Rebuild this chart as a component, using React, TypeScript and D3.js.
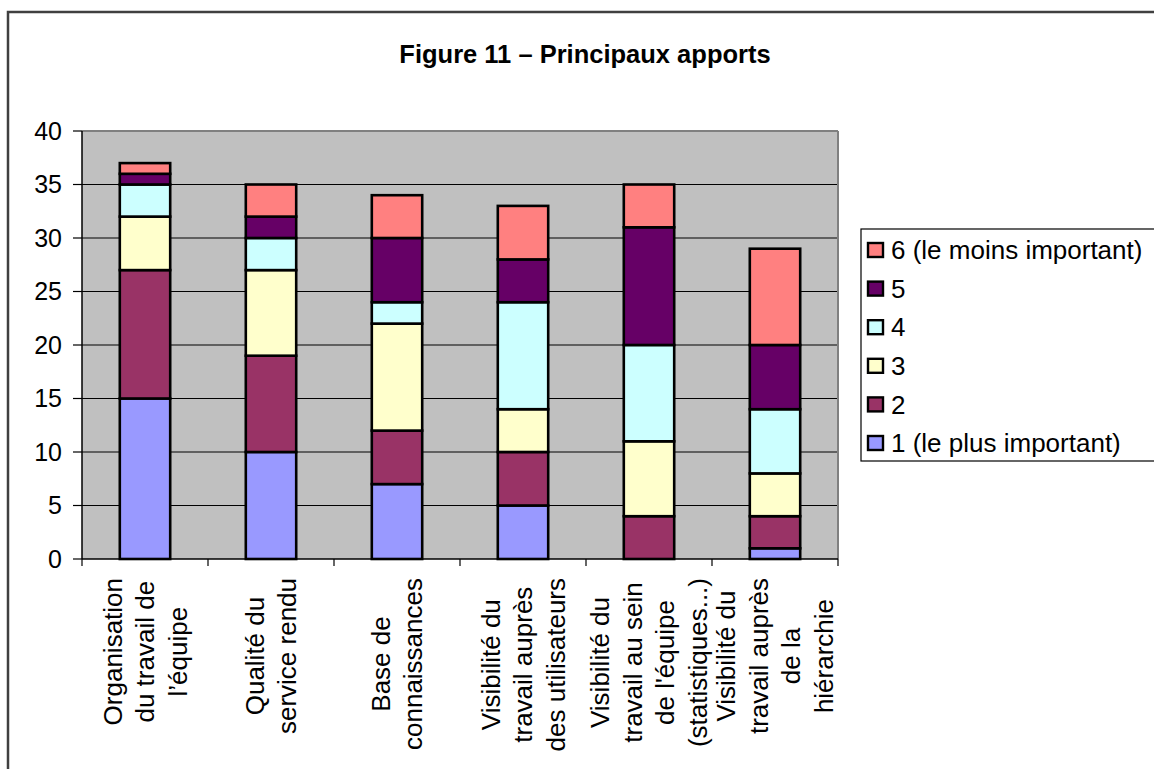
import React, { useMemo } from "react";
import * as d3 from "d3";

// Categories (line breaks mark the wrapped axis label lines)
const categories = [
  "Organisation\ndu travail de\nl’équipe",
  "Qualité du\nservice rendu",
  "Base de\nconnaissances",
  "Visibilité du\ntravail auprès\ndes utilisateurs",
  "Visibilité du\ntravail au sein\nde l'équipe\n(statistiques...)",
  "Visibilité du\ntravail auprès\nde la\nhiérarchie",
];

const seriesNames = ["1 (le plus important)", "2", "3", "4", "5", "6 (le moins important)"];

// Number of answers per rank, one value per category
const rank1 = [15, 10, 7, 5, 0, 1];
const rank2 = [12, 9, 5, 5, 4, 3];
const rank3 = [5, 8, 10, 4, 7, 4];
const rank4 = [3, 3, 2, 10, 9, 6];
const rank5 = [1, 2, 6, 4, 11, 6];
const rank6 = [1, 3, 4, 5, 4, 9];

const seriesColors = ["#9999FF", "#993366", "#FFFFCC", "#CCFFFF", "#660066", "#FF8080"];

const yTicks = [0, 5, 10, 15, 20, 25, 30, 35, 40];

const title = "Figure 11 – Principaux apports";

const FONT = "Arial, 'Liberation Sans', sans-serif";
const W = 1154;
const H = 769;
const plot = { left: 82, right: 838, top: 131, bottom: 559 };

export default function App() {
  const allSeries = [rank1, rank2, rank3, rank4, rank5, rank6];
  const rows = categories.map((c, i) => {
    const r: Record<string, any> = { category: c };
    seriesNames.forEach((s, k) => (r[s] = allSeries[k][i]));
    return r;
  });
  const stacked = d3.stack<any>().keys(seriesNames)(rows);

  const x = d3
    .scaleBand<string>()
    .domain(categories)
    .range([plot.left, plot.right])
    .paddingInner(0.6)
    .paddingOuter(0.3);
  const step = x.step();
  const y = d3.scaleLinear().domain([0, 40]).range([plot.bottom, plot.top]);

  const labelFontSize = 26;
  const lineGap = 32.6;

  const measure = useMemo(() => {
    const canvas = document.createElement("canvas");
    const ctx = canvas.getContext("2d")!;
    ctx.font = `${labelFontSize}px Arial, 'Liberation Sans', sans-serif`;
    return (s: string) => ctx.measureText(s).width;
  }, []);

  const legendTop = 229;
  const legendRow0 = 250;
  const legendStep = 38.6;

  return (
    <svg
      width={W}
      height={H}
      style={{ position: "absolute", left: 0, top: 0, background: "#fff" }}
      fontFamily={FONT}
    >
      {/* outer chart frame */}
      <rect x={8} y={12} width={W + 20} height={H + 20} fill="#fff" stroke="#404040" strokeWidth={2.5} />

      <text x={585} y={63} textAnchor="middle" fontSize={25.5} fontWeight="bold" fill="#000">
        {title}
      </text>

      {/* plot area */}
      <rect
        x={plot.left}
        y={plot.top}
        width={plot.right - plot.left}
        height={plot.bottom - plot.top}
        fill="#C0C0C0"
      />
      {yTicks
        .filter((t) => t > 0 && t < 40)
        .map((t) => (
          <line key={t} x1={plot.left} x2={plot.right} y1={y(t)} y2={y(t)} stroke="#000" strokeWidth={1.2} />
        ))}
      <line x1={plot.left} x2={plot.right} y1={plot.top} y2={plot.top} stroke="#808080" strokeWidth={2} />
      <line x1={plot.right} x2={plot.right} y1={plot.top} y2={plot.bottom} stroke="#808080" strokeWidth={2} />

      {/* stacked bars */}
      {stacked.map((layer, k) => (
        <g key={layer.key} fill={seriesColors[k]} stroke="#000" strokeWidth={2.6}>
          {layer.map((d, i) =>
            d[1] - d[0] > 0 ? (
              <rect
                key={i}
                x={x(categories[i])!}
                y={y(d[1])}
                width={x.bandwidth()}
                height={y(d[0]) - y(d[1])}
              />
            ) : null
          )}
        </g>
      ))}

      {/* y axis */}
      <line x1={plot.left} x2={plot.left} y1={plot.top} y2={plot.bottom} stroke="#000" strokeWidth={1.5} />
      {yTicks.map((t) => (
        <g key={t}>
          <line x1={plot.left - 9} x2={plot.left} y1={y(t)} y2={y(t)} stroke="#000" strokeWidth={1.2} />
          <text x={62} y={y(t)} dy="0.35em" textAnchor="end" fontSize={25} fill="#000">
            {t}
          </text>
        </g>
      ))}

      {/* x axis */}
      <line x1={plot.left} x2={plot.right} y1={plot.bottom} y2={plot.bottom} stroke="#000" strokeWidth={1.5} />
      {d3.range(categories.length + 1).map((i) => (
        <line
          key={i}
          x1={plot.left + i * step}
          x2={plot.left + i * step}
          y1={plot.bottom}
          y2={plot.bottom + 7}
          stroke="#000"
          strokeWidth={1.2}
        />
      ))}
      {categories.map((c) => {
        const lines = c.split("\n");
        const cx = x(c)! + x.bandwidth() / 2;
        const maxW = Math.max(...lines.map(measure));
        const cy = 578 + maxW / 2;
        return (
          <g key={c}>
            {lines.map((ln, j) => {
              const lx = cx + (j - (lines.length - 1) / 2) * lineGap;
              return (
                <text
                  key={j}
                  transform={`translate(${lx},${cy}) rotate(-90)`}
                  textAnchor="middle"
                  dy="0.35em"
                  fontSize={labelFontSize}
                  fill="#000"
                >
                  {ln}
                </text>
              );
            })}
          </g>
        );
      })}

      {/* legend */}
      <rect x={861} y={legendTop} width={320} height={461 - legendTop} fill="#fff" stroke="#000" strokeWidth={1.2} />
      {seriesNames
        .map((s, k) => ({ s, k }))
        .reverse()
        .map(({ s, k }, row) => {
          const cy = legendRow0 + row * legendStep;
          return (
            <g key={s}>
              <rect x={868} y={cy - 7} width={15} height={14} fill={seriesColors[k]} stroke="#000" strokeWidth={2.4} />
              <text x={891} y={cy} dy="0.35em" fontSize={26} fill="#000">
                {s}
              </text>
            </g>
          );
        })}
    </svg>
  );
}
